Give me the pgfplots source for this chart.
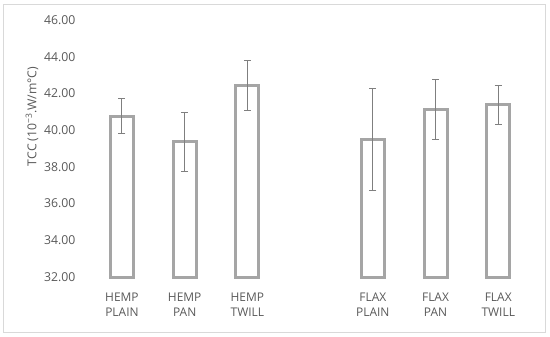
\documentclass[border=0pt]{standalone}
\usepackage{pgfplots}
\pgfplotsset{compat=1.18}
\usepackage{fontspec}
\setmainfont{Open Sans}
\definecolor{bargray}{HTML}{A5A5A5}
\definecolor{errgray}{HTML}{7F7F7F}
\definecolor{txtgray}{HTML}{595959}
\definecolor{bordergray}{HTML}{D9D9D9}
\begin{document}
\begin{tikzpicture}[x=1bp,y=1bp]
\useasboundingbox (-90.6,-59) rectangle (459.4,277);
\draw[bordergray, line width=1bp] (-86.6,-55) rectangle (454.4,273);
\begin{axis}[
  at={(0,0)}, anchor=south west,
  scale only axis, width=439bp, height=257bp,
  xmin=-0.5, xmax=6.5, ymin=32, ymax=46,
  ytick={32,34,...,46},
  yticklabel={\pgfmathprintnumber[fixed,fixed zerofill,precision=2]{\tick}},
  /pgf/number format/assume math mode=true,
  xtick={0,1,2,4,5,6},
  xticklabels={{HEMP\\PLAIN},{HEMP\\PAN},{HEMP\\TWILL},{FLAX\\PLAIN},{FLAX\\PAN},{FLAX\\TWILL}},
  xticklabel style={align=center, font=\fontsize{12}{15.6}\selectfont, text=txtgray, yshift=-12bp},
  yticklabel style={font=\fontsize{12.3}{14}\selectfont, text=txtgray, xshift=-11.6bp},
  axis line style={draw=none},
  major tick length=0pt,
  ylabel={TCC (10\textsuperscript{\char"2212 3}.W/m°C)},
  ylabel style={font=\fontsize{12.3}{14}\selectfont, text=txtgray, at={(axis description cs:-0.1335,0.625)}, anchor=center},
  ybar, bar width=23bp,
  clip=false,
]
\addplot[draw=bargray, fill=white, line width=3bp,
  error bars/.cd, y dir=both, y explicit,
  error bar style={line width=1bp, errgray},
  error mark options={rotate=90, mark size=3.5bp, line width=1bp, errgray}]
  coordinates {
  (0,40.77) +- (0,0.93)
  (1,39.37) +- (0,1.60)
  (2,42.42) +- (0,1.37)
  (4,39.48) +- (0,2.77)
  (5,41.13) +- (0,1.63)
  (6,41.37) +- (0,1.07)
  };
\end{axis}
\end{tikzpicture}
\end{document}
